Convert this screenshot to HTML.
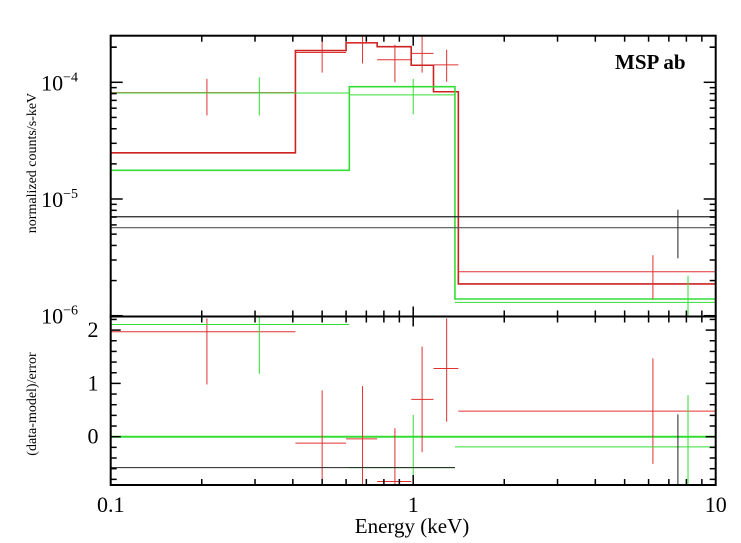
<!DOCTYPE html>
<html><head><meta charset="utf-8"><style>
html,body{margin:0;padding:0;background:#fff;}
svg{display:block;font-family:"Liberation Serif",serif;}
</style></head><body>
<svg id="c" width="741" height="543" viewBox="0 0 741 543"></svg>
<script>
// ---- data ----
const redModelEdges = [0.1, 0.408, 0.600, 0.760, 0.985, 1.167, 1.41, 10];
const redModelVals = [2.49e-5, 1.87e-4, 2.18e-4, 2.02e-4, 1.40e-4, 8.3e-5, 1.87e-6];
const greenModelEdges = [0.1, 0.615, 1.374, 10];
const greenModelVals = [1.76e-5, 9.17e-5, 1.39e-6];
const blackModelVals = [7.05e-6, 5.68e-6];
const redDataE = [0.208, 0.5, 0.68, 0.87, 1.07, 1.29, 6.2];
const redDataLo = [0.1, 0.408, 0.600, 0.760, 0.985, 1.167, 1.41];
const redDataHi = [0.408, 0.600, 0.760, 0.985, 1.167, 1.41, 10];
const redDataY = [8.15e-5, 1.80e-4, 2.18e-4, 1.56e-4, 1.77e-4, 1.41e-4, 2.38e-6];
const redDataYlo = [5.2e-5, 1.21e-4, 1.45e-4, 1.0e-4, 1.21e-4, 1.01e-4, 1.4e-6];
const redDataYhi = [1.07e-4, 2.6e-4, 2.6e-4, 2.1e-4, 2.5e-4, 1.9e-4, 3.3e-6];
const greenDataE = [0.31, 1.0, 8.1];
const greenDataLo = [0.1, 0.615, 1.374];
const greenDataHi = [0.615, 1.374, 10];
const greenDataY = [8.1e-5, 7.8e-5, 1.3e-6];
const greenDataYlo = [5.2e-5, 5.3e-5, 0.9e-6];
const greenDataYhi = [1.1e-4, 1.07e-4, 2.2e-6];
const blackDataE = [7.5];
const blackDataYlo = [3.1e-6];
const blackDataYhi = [8.1e-6];
const redResid = [1.97, -0.12, -0.04, -0.84, 0.70, 1.28, 0.48];
const redResidLo = [0.98, -1.2, -1.2, -1.2, -0.29, 0.28, -0.51];
const redResidHi = [2.22, 0.87, 0.95, 0.16, 1.69, 2.22, 1.47];
const greenResid = [2.18, -0.58, -0.19];
const greenResidLo = [1.18, -1.2, -1.2];
const greenResidHi = [2.4, 0.41, 0.78];
const blackResid = [-0.58];
const blackResidLo = [-1.2];
const blackResidHi = [0.42];
const xTickLabels = ["0.1", "1", "10"];
const xTickVals = [0.1, 1, 10];
const yTopTickExp = [-4, -5, -6];
const yBotTickVals = [2, 1, 0];

// ---- geometry ----
const L=110.7, R=715.7, T1=35.7, B1=316.5, B2=485;
const svg=document.getElementById('c');
const NS='http://www.w3.org/2000/svg';
const lx0=Math.log10(0.1), lx1=Math.log10(10);
function X(e){return L+(Math.log10(e)-lx0)/(lx1-lx0)*(R-L);}
function Y1(v){return 82.3-(Math.log10(v)+4)*116.7;}
function Y2(v){return 436.7-v*53.3;}
function clampY2(y){return Math.max(B1,Math.min(B2,y));}
function clampY1(y){return Math.max(T1,Math.min(B1,y));}
function line(x1,y1,x2,y2,col,w){
  const l=document.createElementNS(NS,'line');
  l.setAttribute('x1',x1);l.setAttribute('y1',y1);l.setAttribute('x2',x2);l.setAttribute('y2',y2);
  l.setAttribute('stroke',col);l.setAttribute('stroke-width',w||1);
  svg.appendChild(l);return l;
}
function text(x,y,s,size,anchor){
  const t=document.createElementNS(NS,'text');
  t.setAttribute('x',x);t.setAttribute('y',y);t.setAttribute('font-size',size);
  t.setAttribute('text-anchor',anchor||'middle');
  t.textContent=s;svg.appendChild(t);return t;
}
const RED='#e03030', GRN='#33dd33', BLK='#222';
function step(edges,vals,col,name){
  let d='';
  for(let i=0;i<vals.length;i++){
    const y=clampY1(Y1(vals[i]));
    d+=(i===0?'M':'L')+X(edges[i])+','+y+'L'+X(edges[i+1])+','+y;
  }
  const p=document.createElementNS(NS,'path');
  p.setAttribute('d',d);p.setAttribute('fill','none');p.setAttribute('stroke',col);p.setAttribute('stroke-width',1.6);
  
  
  svg.appendChild(p);
}
step(redModelEdges,redModelVals,'#cc2222','red-model-step');
step(greenModelEdges,greenModelVals,GRN,'green-model-step');
blackModelVals.forEach((v,i)=>{
  const l=line(L,Y1(v),R,Y1(v),i===0?'#222':'#555',1.2);
  
  
});
function cross(xc,xlo,xhi,yc,ylo,yhi,col,name){
  const g=document.createElementNS(NS,'g');
  
  
  svg.appendChild(g);
  const a=line(X(xlo),yc,X(xhi),yc,col,1);g.appendChild(a);
  const b=line(X(xc),ylo,X(xc),yhi,col,1);g.appendChild(b);
}
for(let i=0;i<redDataE.length;i++)
  cross(redDataE[i],redDataLo[i],redDataHi[i],Y1(redDataY[i]),clampY1(Y1(redDataYlo[i])),clampY1(Y1(redDataYhi[i])),RED,'red-data-point');
for(let i=0;i<greenDataE.length;i++)
  cross(greenDataE[i],greenDataLo[i],greenDataHi[i],Y1(greenDataY[i]),clampY1(Y1(greenDataYlo[i])),clampY1(Y1(greenDataYhi[i])),GRN,'green-data-point');
for(let i=0;i<blackDataE.length;i++){
  const l=line(X(blackDataE[i]),Y1(blackDataYlo[i]),X(blackDataE[i]),Y1(blackDataYhi[i]),BLK,1);
  
  
}
const z=line(L,Y2(0),R,Y2(0),GRN,2);


for(let i=0;i<redResid.length;i++)
  cross(redDataE[i],redDataLo[i],redDataHi[i],Y2(redResid[i]),clampY2(Y2(redResidLo[i])),clampY2(Y2(redResidHi[i])),RED,'red-residual');
for(let i=0;i<greenResid.length;i++)
  cross(greenDataE[i],greenDataLo[i],greenDataHi[i],clampY2(Y2(greenResid[i]))+(i===0?4:0),clampY2(Y2(greenResidLo[i])),clampY2(Y2(greenResidHi[i])),GRN,'green-residual');
for(let i=0;i<blackResid.length;i++){
  cross(blackDataE[i],0.1,1.374,Y2(blackResid[i]),clampY2(Y2(blackResidLo[i])),clampY2(Y2(blackResidHi[i])),BLK,'black-residual');
}
function rect(x,y,w,h,name){
  const r=document.createElementNS(NS,'rect');
  r.setAttribute('x',x);r.setAttribute('y',y);r.setAttribute('width',w);r.setAttribute('height',h);
  r.setAttribute('fill','none');r.setAttribute('stroke','#000');r.setAttribute('stroke-width',2);
  
  
  svg.appendChild(r);
}
rect(L,T1,R-L,B1-T1,'top-panel-frame');
rect(L,B1,R-L,B2-B1,'residual-panel-frame');
for(let d=-1;d<1;d++)for(let m=1;m<10;m++){
  const e=m*Math.pow(10,d), x=X(e), len=m===1?10:6;
  [[T1,1],[B1,-1],[B1,1],[B2,-1]].forEach(([y,s])=>line(x,y,x,y+s*len,'#000',1.5));
}
for(let d=-6;d<-3;d++)for(let m=1;m<10;m++){
  const y=Y1(m*Math.pow(10,d)); if(y<T1)continue;
  const len=m===1?12:6;
  line(L,y,L+len,y,'#000',1.5);line(R,y,R-len,y,'#000',1.5);
}
line(L,Y1(2e-4),L+6,Y1(2e-4),'#000',1.5);line(R,Y1(2e-4),R-6,Y1(2e-4),'#000',1.5);
for(let v=-0.8;v<=2.21;v+=0.2){
  const y=Y2(v), major=Math.abs(v-Math.round(v))<0.01, len=major?10:6;
  line(L,y,L+len,y,'#000',1.5);line(R,y,R-len,y,'#000',1.5);
}
xTickVals.forEach((v,i)=>{
  const t=text(X(v),512,xTickLabels[i],22);
  
  
});
yTopTickExp.forEach(e=>{
  const t=text(78,Y1(Math.pow(10,e))+8,'10',22,'end');
  const s=document.createElementNS(NS,'tspan');
  s.setAttribute('font-size',14);s.setAttribute('dy',-9);s.textContent='\u2212'+(-e);
  t.appendChild(s);
  
  
});
yBotTickVals.forEach(v=>{
  const t=text(93,Y2(v)+7,String(v),22);
  
  
});
</script>
<div style="position:absolute;left:0;top:0;width:741px;height:543px;pointer-events:none;font-family:'Liberation Serif',serif;">
  <div style="position:absolute;left:312px;top:514px;width:200px;text-align:center;font-size:21px;">Energy (keV)</div>
  <div style="position:absolute;left:-67px;top:155px;width:200px;text-align:center;font-size:14px;transform:rotate(-90deg);">normalized counts/s-keV</div>
  <div style="position:absolute;left:-67px;top:396px;width:200px;text-align:center;font-size:14px;transform:rotate(-90deg);">(data-model)/error</div>
  <div style="position:absolute;left:615px;top:50px;font-size:21px;font-weight:bold;">MSP ab</div>
</div>
</body></html>
